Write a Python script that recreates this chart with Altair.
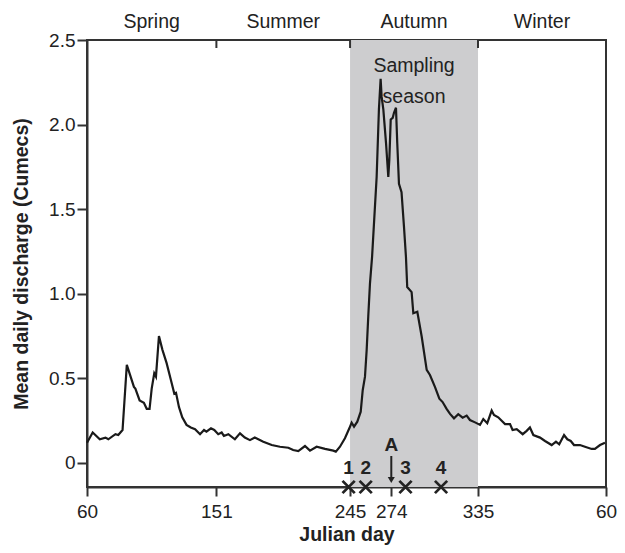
import altair as alt
import pandas as pd

# ---- data ----
days = [60, 64, 69, 73, 75, 80, 82, 85, 88, 93, 94, 97, 100, 102, 104, 105.5, 107.3, 108.5,
        110.6, 113, 116, 119, 121.4, 122.6, 124.7, 127, 130, 133, 136, 139.5, 142.3, 144,
        147.2, 149.5, 152.3, 154.7, 156.3, 159.4, 164, 167.6, 171, 174.6, 178, 184, 189.9,
        195.7, 201.6, 205, 208.6, 213.3, 216.8, 221.5, 227.4, 233.2, 235, 237.9, 241.4,
        244.5, 246.1, 247.8, 250.1, 252.5, 253.9, 255.5, 256.7, 257.8, 259, 260.5, 263.7,
        265.3, 266.5, 267.2, 268.4, 270.3, 271.9, 272.6, 273.6, 275, 275.9, 277.3, 278.2,
        279.4, 281.2, 282.9, 284.3, 285.2, 288.3, 289.5, 292.3, 295.4, 298.9, 301.2, 304.7,
        307.8, 310.1, 312.9, 315.3, 318.1, 321.1, 324.2, 327, 329.3, 332.9, 336.4, 338.7,
        341.5, 344.6, 346.2, 349.2, 354, 357.5, 359.3, 362.2, 366.4, 369.2, 371.5, 373.9,
        378.6, 382.1, 386.8, 389.8, 392.1, 395.5, 397.8, 400.2, 402.5, 406.7, 410.2, 414.9,
        417.2, 420.8, 424.3]
discharge = [0.12, 0.18, 0.14, 0.15, 0.14, 0.17, 0.165, 0.195, 0.58, 0.45, 0.44, 0.37, 0.356,
             0.32, 0.32, 0.44, 0.53, 0.51, 0.75, 0.67, 0.59, 0.49, 0.41, 0.415, 0.33, 0.27,
             0.225, 0.21, 0.20, 0.17, 0.195, 0.185, 0.205, 0.195, 0.17, 0.18, 0.16, 0.17,
             0.14, 0.175, 0.15, 0.135, 0.15, 0.126, 0.106, 0.096, 0.09, 0.077, 0.07, 0.10,
             0.073, 0.096, 0.083, 0.073, 0.067, 0.096, 0.146, 0.205, 0.238, 0.215, 0.244,
             0.303, 0.43, 0.51, 0.67, 0.865, 1.06, 1.22, 1.69, 2.09, 2.27, 2.165, 2.09, 1.89,
             1.69, 1.79, 2.03, 2.04, 2.07, 2.10, 1.89, 1.65, 1.60, 1.40, 1.22, 1.04, 1.01,
             0.885, 0.894, 0.746, 0.55, 0.52, 0.45, 0.38, 0.36, 0.32, 0.29, 0.264, 0.288,
             0.268, 0.28, 0.254, 0.24, 0.225, 0.26, 0.235, 0.31, 0.284, 0.27, 0.23, 0.23,
             0.195, 0.20, 0.17, 0.19, 0.21, 0.165, 0.15, 0.13, 0.106, 0.126, 0.11, 0.165,
             0.14, 0.13, 0.106, 0.106, 0.096, 0.083, 0.083, 0.106, 0.12]

x_ticks = [60, 151, 245, 274, 335, 425]
top_ticks = [151, 245, 335]
y_ticks = [0, 0.5, 1.0, 1.5, 2.0, 2.5]

seasons = ["Spring", "Summer", "Autumn", "Winter"]
season_start = [60, 151, 245, 335]
season_end = [151, 245, 335, 425]

sampling_start = [245]
sampling_end = [335]

site_labels = ["1", "2", "3", "4"]
site_days = [244, 256, 284, 309]

event_label = ["A"]
event_day = [274]

X_MIN, X_MAX = 60, 425
Y_MIN, Y_MAX = -0.142, 2.5

W, H = 519, 447
FONT = "Liberation Sans"
INK = "#222222"

xscale = alt.Scale(domain=[X_MIN, X_MAX], nice=False, zero=False)
yscale = alt.Scale(domain=[Y_MIN, Y_MAX], nice=False, zero=False)

xaxis = alt.Axis(values=x_ticks, labelExpr="datum.value > 365 ? datum.value - 365 : datum.value",
                 title="Julian day", grid=False, tickSize=9, tickWidth=2, tickColor="#333",
                 domainColor="#333", domainWidth=2, labelFontSize=19, labelFont=FONT,
                 labelColor=INK, labelPadding=6, titleFont=FONT, titleFontSize=19.5,
                 titleFontWeight="bold", titleColor=INK, titlePadding=4, labelFlush=False,
                 labelOverlap=False)
yaxis = alt.Axis(values=y_ticks, labelExpr="datum.value == 0 ? '0' : format(datum.value, '.1f')",
                 title="Mean daily discharge (Cumecs)", grid=False, tickSize=10, tickWidth=2,
                 tickColor="#333", domainColor="#333", domainWidth=2, labelFontSize=19,
                 labelFont=FONT, labelColor=INK, labelPadding=2, titleFont=FONT,
                 titleFontSize=19.5, titleFontWeight="bold", titleColor=INK, titlePadding=17,
                 labelFlush=False, labelOverlap=False)

line_df = pd.DataFrame({"day": days, "q": discharge})
season_df = pd.DataFrame({"season": seasons, "day": season_start, "day_end": season_end})
box_df = pd.DataFrame({"day": sampling_start, "day_end": sampling_end,
                       "label": [["Sampling", "season"]]})
tick_df = pd.DataFrame({"day": top_ticks})
site_df = pd.DataFrame({"day": site_days, "site": site_labels})
event_df = pd.DataFrame({"day": event_day, "label": event_label})

box = alt.Chart(box_df).mark_rect(color="#cdcdcf").encode(
    x=alt.X("day:Q", scale=xscale, axis=xaxis), x2="day_end:Q",
    y=alt.value(0), y2=alt.value(H))

box_text = alt.Chart(box_df).transform_calculate(mid="(datum.day + datum.day_end) / 2").mark_text(
    font=FONT, fontSize=19.5, color=INK, lineHeight=31, baseline="middle", align="center"
).encode(x=alt.X("mid:Q", scale=xscale, axis=xaxis), y=alt.value(26), text="label")

line = alt.Chart(line_df).mark_line(color="#1a1a1a", strokeWidth=2.2).encode(
    x=alt.X("day:Q", scale=xscale, axis=xaxis),
    y=alt.Y("q:Q", scale=yscale, axis=yaxis))

top = alt.Chart(tick_df).mark_rule(color="#333", strokeWidth=2).encode(
    x=alt.X("day:Q", scale=xscale, axis=xaxis), y=alt.value(0), y2=alt.value(8))

season_text = alt.Chart(season_df).transform_calculate(
    mid="(datum.day + datum.day_end) / 2").mark_text(
    font=FONT, fontSize=19.5, color=INK, baseline="middle", align="center"
).encode(x=alt.X("mid:Q", scale=xscale, axis=xaxis), y=alt.value(-18), text="season")

crosses = alt.Chart(site_df).mark_point(
    shape="M-1,-1L1,1M-1,1L1,-1", size=150, strokeWidth=2.8, color="#222", filled=False,
    opacity=1
).encode(x=alt.X("day:Q", scale=xscale, axis=xaxis), y=alt.value(H))

site_text = alt.Chart(site_df).mark_text(
    font=FONT, fontSize=19, fontWeight="bold", color=INK, baseline="middle", align="center"
).encode(x=alt.X("day:Q", scale=xscale, axis=xaxis), y=alt.value(428), text="site")

event_text = alt.Chart(event_df).mark_text(
    font=FONT, fontSize=19, fontWeight="bold", color=INK, baseline="middle", align="center"
).encode(x=alt.X("day:Q", scale=xscale, axis=xaxis), y=alt.value(405), text="label")

arrow_shaft = alt.Chart(event_df).mark_rule(color="#222", strokeWidth=2).encode(
    x=alt.X("day:Q", scale=xscale, axis=xaxis), y=alt.value(416), y2=alt.value(438))

arrow_head = alt.Chart(event_df).mark_point(
    shape="triangle-down", size=50, filled=True, color="#222", opacity=1
).encode(x=alt.X("day:Q", scale=xscale, axis=xaxis), y=alt.value(440))

chart = alt.layer(
    box, box_text, line, top, season_text, crosses, site_text, event_text, arrow_shaft, arrow_head
).properties(
    width=W, height=H, autosize=alt.AutoSizeParams(type="none"),
    padding={"left": 79, "top": 32, "right": 11, "bottom": 58}
).configure_view(stroke="#333", strokeWidth=2)

chart.save("out.html", embed_options={"renderer": "svg", "actions": False})
